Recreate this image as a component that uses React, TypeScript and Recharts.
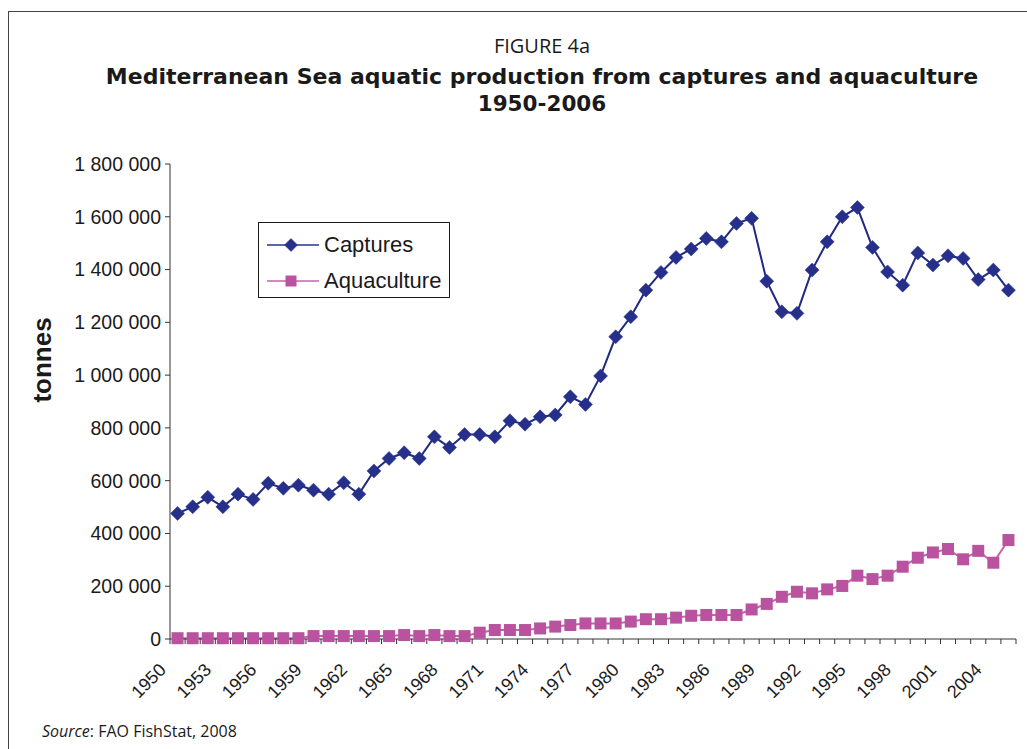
import { LineChart, Line, XAxis, YAxis } from 'recharts'

const years = [
  1950, 1951, 1952, 1953, 1954, 1955, 1956, 1957, 1958, 1959,
  1960, 1961, 1962, 1963, 1964, 1965, 1966, 1967, 1968, 1969,
  1970, 1971, 1972, 1973, 1974, 1975, 1976, 1977, 1978, 1979,
  1980, 1981, 1982, 1983, 1984, 1985, 1986, 1987, 1988, 1989,
  1990, 1991, 1992, 1993, 1994, 1995, 1996, 1997, 1998, 1999,
  2000, 2001, 2002, 2003, 2004, 2005,
]

// tonnes
const captures = [
  476000, 501000, 537000, 501000, 549000, 529000, 590000, 571000, 583000, 564000,
  549000, 592000, 549000, 637000, 684000, 706000, 684000, 766000, 726000, 775000,
  775000, 766000, 827000, 814000, 842000, 849000, 918000, 889000, 997000, 1145000,
  1221000, 1322000, 1389000, 1446000, 1478000, 1518000, 1505000, 1575000, 1594000, 1356000,
  1240000, 1234000, 1398000, 1505000, 1600000, 1635000, 1484000, 1391000, 1341000, 1463000,
  1417000, 1452000, 1442000, 1362000, 1398000, 1322000,
]

const aquaculture = [
  3000, 3000, 3000, 3000, 3000, 3000, 3000, 3000, 3000, 11000,
  11000, 11000, 11000, 11000, 11000, 15000, 11000, 15000, 11000, 11000,
  24000, 34000, 34000, 34000, 40000, 47000, 53000, 59000, 59000, 59000,
  66000, 75000, 75000, 81000, 88000, 91000, 91000, 91000, 112000, 133000,
  160000, 179000, 173000, 188000, 201000, 240000, 227000, 240000, 274000, 308000,
  328000, 341000, 302000, 334000, 289000, 375000,
]

const yTicks = [0, 200000, 400000, 600000, 800000, 1000000, 1200000, 1400000, 1600000, 1800000]
const xLabelYears = [1950, 1953, 1956, 1959, 1962, 1965, 1968, 1971, 1974, 1977, 1980, 1983, 1986, 1989, 1992, 1995, 1998, 2001, 2004]

const data = years.map((year, i) => ({ year, captures: captures[i], aquaculture: aquaculture[i] }))
// tick marks sit on the category boundaries, like the original spreadsheet chart
const xBoundaries = [...years.map(y => y - 0.5), years[years.length - 1] + 0.5]

const CAPT = '#26308a'
const AQUA = '#b9539f'
const AXIS = '#333'
const TEXT = '#1a1a1a'
const ARIAL = "Arial, 'Liberation Sans', sans-serif"
const TITLE_FONT = "'DejaVu Sans', sans-serif"

const fmt = (v: number) => String(v).replace(/\B(?=(\d{3})+(?!\d))/g, ' ')

const Diamond = ({ cx, cy, color, size }: { cx?: number; cy?: number; color: string; size: number }) => {
  if (cx == null || cy == null) return <g />
  const r = size / 2
  return <path d={`M${cx},${cy - r}L${cx + r},${cy}L${cx},${cy + r}L${cx - r},${cy}Z`} fill={color} stroke={color} strokeWidth={0.5} />
}

const Square = ({ cx, cy, color, size }: { cx?: number; cy?: number; color: string; size: number }) => {
  if (cx == null || cy == null) return <g />
  return <rect x={cx - size / 2} y={cy - size / 2} width={size} height={size} fill={color} />
}

const YearTick = (props: any) => {
  const { x, y, payload } = props
  const year = payload.value + 0.5
  if (!xLabelYears.includes(year)) return <g />
  const tx = x - 3
  const ty = y + 25
  return (
    <text x={tx} y={ty} transform={`rotate(-45, ${tx}, ${ty})`} textAnchor="end"
      fontFamily={ARIAL} fontSize={18} fill={TEXT}>
      {year}
    </text>
  )
}

const legendItems = [
  { label: 'Captures', color: CAPT, lineColor: '#2a3590', mark: 'diamond' },
  { label: 'Aquaculture', color: AQUA, lineColor: '#c064aa', mark: 'square' },
]

const LegendBox = () => (
  <div style={{ position: 'absolute', left: 258, top: 222, border: `1px solid ${TEXT}`, width: 192, height: 76, boxSizing: 'border-box', background: '#fff', fontFamily: ARIAL, fontSize: 22, color: TEXT }}>
    {legendItems.map((item, i) => (
      <div key={item.label} style={{ position: 'absolute', left: 8, top: i === 0 ? 9 : 45, height: 26, display: 'flex', alignItems: 'center' }}>
        <svg width={52} height={16} style={{ marginRight: 5 }}>
          <line x1={0} y1={8} x2={52} y2={8} stroke={item.lineColor} strokeWidth={1.5} />
          {item.mark === 'diamond'
            ? <Diamond cx={24} cy={8} color={item.color} size={13} />
            : <Square cx={24} cy={8} color={item.color} size={11} />}
        </svg>
        <span style={{ lineHeight: '26px' }}>{item.label}</span>
      </div>
    ))}
  </div>
)

const centered = { position: 'absolute' as const, left: 0, width: 1084, textAlign: 'center' as const, color: TEXT, whiteSpace: 'nowrap' as const }

export default function App() {
  return (
    <div style={{ position: 'absolute', left: 0, top: 0, width: 1027, height: 749, background: '#fff', overflow: 'hidden' }}>
      <div style={{ position: 'absolute', left: 8, top: 11, width: 1040, height: 760, borderLeft: '1.5px solid #444', borderTop: '1.5px solid #444' }} />
      <div style={{ ...centered, top: 32, fontFamily: "'Open Sans', sans-serif", fontSize: 20, lineHeight: '28px' }}>FIGURE 4a</div>
      <div style={{ ...centered, top: 64, fontFamily: TITLE_FONT, fontWeight: 700, fontSize: 22, lineHeight: '26px' }}>
        Mediterranean Sea aquatic production from captures and aquaculture
      </div>
      <div style={{ ...centered, top: 91, fontFamily: TITLE_FONT, fontWeight: 700, fontSize: 21.5, lineHeight: '26px' }}>1950-2006</div>
      <div style={{ position: 'absolute', left: 42, top: 360, transform: 'translate(-50%, -50%) rotate(-90deg)', fontFamily: ARIAL, fontWeight: 700, fontSize: 26, color: TEXT, whiteSpace: 'nowrap' }}>
        tonnes
      </div>
      <div style={{ position: 'absolute', left: 42, top: 720, fontFamily: "'Open Sans', sans-serif", fontSize: 16, color: TEXT }}>
        <i>Source</i>: FAO FishStat, 2008
      </div>
      <div style={{ position: 'absolute', left: 0, top: 0 }}>
        <LineChart width={1027} height={749} data={data} margin={{ top: 164, right: 11, bottom: 0, left: 0 }}>
          <XAxis dataKey="year" type="number" domain={[1949.5, 2005.5]} ticks={xBoundaries} interval={0}
            height={110} tickSize={5} stroke={AXIS} tick={<YearTick />} allowDecimals />
          <YAxis type="number" domain={[0, 1800000]} ticks={yTicks} interval={0} width={170} tickSize={5} tickMargin={4}
            stroke={AXIS} tickFormatter={fmt}
            tick={{ fill: TEXT, fontSize: 19.5, fontFamily: ARIAL }} />
          <Line dataKey="captures" name="Captures" stroke="#1f2a80" strokeWidth={2} isAnimationActive={false}
            dot={(p: any) => <Diamond key={`c${p.index}`} cx={p.cx} cy={p.cy} color={CAPT} size={14} />} />
          <Line dataKey="aquaculture" name="Aquaculture" stroke="#c064aa" strokeWidth={2} isAnimationActive={false}
            dot={(p: any) => <Square key={`a${p.index}`} cx={p.cx} cy={p.cy} color={AQUA} size={12} />} />
        </LineChart>
      </div>
      <LegendBox />
    </div>
  )
}
